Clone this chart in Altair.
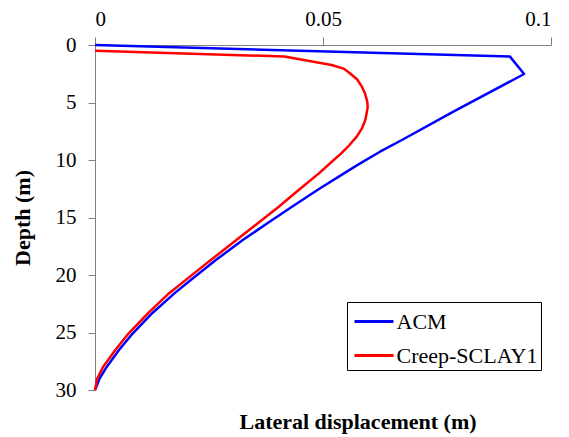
import altair as alt
import pandas as pd

acm_x = [0.0, 0.0910, 0.0941, 0.0786, 0.0673, 0.0625, 0.0576, 0.0546, 0.0492, 0.0432, 0.0378,
         0.0324, 0.0265, 0.0210, 0.0174, 0.0126, 0.0083, 0.0053, 0.0026, 0.0010, 0.0]
acm_d = [0.0, 1.01, 2.52, 5.8, 8.26, 9.28, 10.43, 11.16, 12.5, 14.06, 15.5,
         16.96, 18.7, 20.43, 21.6, 23.3, 25.07, 26.5, 27.97, 29.0, 30.0]

creep_x = [0.0, 0.0415, 0.0519, 0.0545, 0.0559, 0.0575, 0.0585, 0.0592, 0.0597, 0.0598, 0.0593,
           0.0586, 0.0574, 0.0558, 0.0540, 0.0515, 0.0491, 0.0450, 0.0425, 0.0403, 0.0357,
           0.0310, 0.0254, 0.0217, 0.0162, 0.0117, 0.0074, 0.0045, 0.0018, 0.0005, 0.0]
creep_d = [0.5, 1.0, 1.74, 2.05, 2.46, 3.0, 3.6, 4.2, 4.93, 5.4, 6.5,
           7.2, 7.97, 8.7, 9.42, 10.3, 11.16, 12.5, 13.33, 14.06, 15.5,
           16.96, 18.7, 19.86, 21.6, 23.3, 25.07, 26.5, 27.97, 29.0, 30.0]

series = ["ACM", "Creep-SCLAY1"]
colors = ["#0000FF", "#FF0000"]

rows = []
for i, (x, d) in enumerate(zip(acm_x, acm_d)):
    rows.append({"series": "ACM", "x": x, "depth": d, "i": i})
for i, (x, d) in enumerate(zip(creep_x, creep_d)):
    rows.append({"series": "Creep-SCLAY1", "x": x, "depth": d, "i": i})
df = pd.DataFrame(rows)

FONT = "Liberation Serif"

chart = alt.Chart(df).mark_line(strokeWidth=2.5, strokeJoin="round").encode(
    x=alt.X("x:Q", scale=alt.Scale(domain=[0, 0.1], nice=False),
            axis=alt.Axis(orient="top", values=[0, 0.05, 0.1], title=None, grid=False,
                          labelExpr="datum.value == 0 ? '0' : datum.value == 0.1 ? '0.1' : '0.05'",
                          tickSize=8, labelPadding=8, domainColor="#808080", tickColor="#808080",
                          labelFontSize=21, labelFont=FONT, labelColor="black")),
    y=alt.Y("depth:Q", scale=alt.Scale(domain=[0, 30], reverse=True, nice=False),
            axis=alt.Axis(values=[0, 5, 10, 15, 20, 25, 30], title="Depth (m)", grid=False,
                          tickSize=7, labelPadding=12, domainColor="#808080", tickColor="#808080",
                          labelFontSize=21, labelFont=FONT, labelColor="black",
                          titleFont=FONT, titleFontSize=22, titleFontWeight="bold",
                          titleColor="black", titlePadding=21)),
    color=alt.Color("series:N", scale=alt.Scale(domain=series, range=colors),
                    legend=alt.Legend(title=None, orient="none", legendX=252, legendY=257,
                                      strokeColor="black", fillColor="white", padding=3,
                                      symbolType="M-1.3,0H1.3", symbolSize=900, symbolStrokeWidth=3,
                                      labelFont=FONT, labelFontSize=22, labelColor="black",
                                      rowPadding=6, labelOffset=6, symbolOffset=7.5)),
    order="i:Q",
).properties(
    width=456, height=345,
    title=alt.TitleParams("Lateral displacement (m)", orient="bottom", font=FONT, fontSize=22,
                          fontWeight="bold", color="black", dx=35, offset=12),
    autosize=alt.AutoSizeParams(type="none"),
    padding={"left": 95, "top": 45, "right": 18, "bottom": 47},
).configure_view(stroke=None)

chart.save("out.html", embed_options={"renderer": "svg", "actions": False})
